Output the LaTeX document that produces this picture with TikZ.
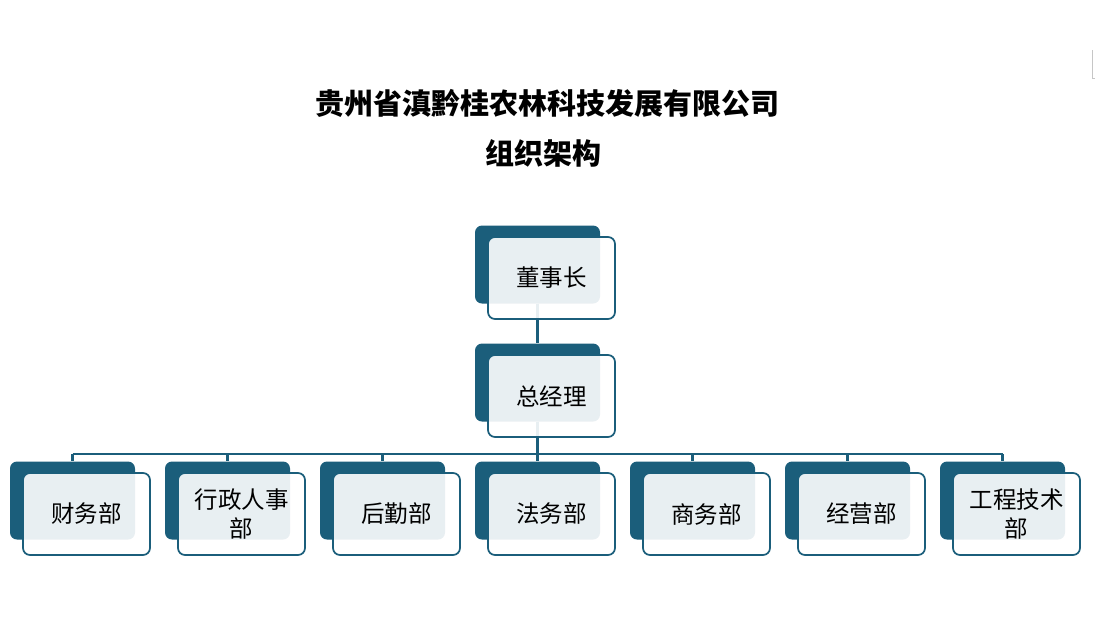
\documentclass[tikz,border=0pt]{standalone}
\usepackage{fontspec}
\setmainfont{Noto Sans CJK SC}
\usetikzlibrary{positioning,backgrounds}
\definecolor{orgblue}{HTML}{1B5E7B}
\tikzset{
  backbox/.style={fill=orgblue, rounded corners=7pt, minimum width=125pt,
    minimum height=78pt, inner sep=0pt},
  frontbox/.style={draw=orgblue, line width=1.7pt, fill=white, fill opacity=0.9,
    text opacity=1, rounded corners=7pt, minimum width=127pt, minimum height=82pt,
    inner sep=0pt, align=center, font=\fontsize{23.5}{29}\selectfont},
  link/.style={draw=orgblue, line width=2.2pt}
}
\begin{document}
\begin{tikzpicture}[x=1pt,y=-1pt]
    \useasboundingbox (0,0) rectangle (1095,630);
    % Title
    \node[font=\fontsize{29}{34}\selectfont\bfseries] (title) at (547,103)
      {贵州省滇黔桂农林科技发展有限公司};
    \node[font=\fontsize{29}{34}\selectfont\bfseries] (subtitle) at (543.5,153) {组织架构};

    % Top boxes
    \node[backbox] (ceo-bg) at (537.5,264.5) {};
    \node[frontbox] (ceo) at ([shift={(14,13.5)}]ceo-bg) {董事长};
    \node[backbox] (gm-bg) at (537.5,382.5) {};
    \node[frontbox] (gm) at ([shift={(14,13.5)}]gm-bg) {总经理};

    % Departments
    \foreach \dept [count=\i] in {财务部, {行政人事\\部}, 后勤部, 法务部, 商务部,
                                 经营部, {工程技术\\部}} {
      \node[backbox] (dep\i-bg) at ({72.5+155*(\i-1)},500.5) {};
      \node[frontbox] (dep\i) at ([shift={(14,13.5)}]dep\i-bg) {\dept};
    }

    % Draw connectors
    \begin{pgfonlayer}{background}
      \coordinate (bus) at (537.5,454);
      \draw[link] (ceo-bg.south) -- (gm-bg.north);
      \draw[link] (gm-bg.south) -- (bus);
      \draw[link] (dep1-bg.north |- bus) -- (dep7-bg.north |- bus);
      \foreach \i in {1,...,7}
        \draw[link] (dep\i-bg.north |- bus) -- (dep\i-bg.north);
    \end{pgfonlayer}

    % Small mark at the right edge
    \draw[gray!45, line width=1pt] (1092,50) -- (1092,78) -- (1095,78);
\end{tikzpicture}
\end{document}
